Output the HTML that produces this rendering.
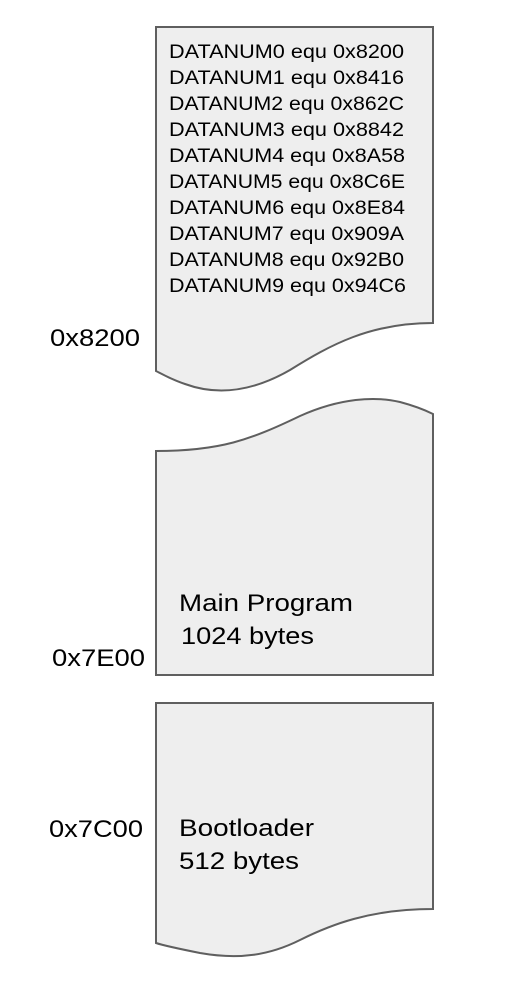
<!DOCTYPE html>
<html><head><style>html,body{margin:0;padding:0;background:#fff}svg{display:block}</style></head>
<body>
<svg width="516" height="996" viewBox="0 0 516 996" xmlns="http://www.w3.org/2000/svg" font-family="Liberation Sans, Arial, sans-serif" fill="#000">
<g fill="#eeeeee" stroke="#5f5f5f" stroke-width="2">
<path d="M156,27 H433 V323 C370,323 330,345 290,370 C250,393 215,395 185,384 C170,379 162,374 156,371 Z"/>
<path d="M156,451 C220,451 250,440 300,416 C340,398 375,396 400,402 C415,406 425,410 433,414 V675 H156 Z"/>
<path d="M156,703 H433 V909 C370,909 330,925 300,940 C270,955 240,960 200,953 C180,949 165,946 156,943 Z"/>
</g>
<g font-size="19">
<text x="169" y="58" textLength="235" lengthAdjust="spacingAndGlyphs">DATANUM0 equ 0x8200</text>
<text x="169" y="84" textLength="235" lengthAdjust="spacingAndGlyphs">DATANUM1 equ 0x8416</text>
<text x="169" y="110" textLength="235" lengthAdjust="spacingAndGlyphs">DATANUM2 equ 0x862C</text>
<text x="169" y="136" textLength="235" lengthAdjust="spacingAndGlyphs">DATANUM3 equ 0x8842</text>
<text x="169" y="162" textLength="236" lengthAdjust="spacingAndGlyphs">DATANUM4 equ 0x8A58</text>
<text x="169" y="188" textLength="236" lengthAdjust="spacingAndGlyphs">DATANUM5 equ 0x8C6E</text>
<text x="169" y="214" textLength="236" lengthAdjust="spacingAndGlyphs">DATANUM6 equ 0x8E84</text>
<text x="169" y="240" textLength="235" lengthAdjust="spacingAndGlyphs">DATANUM7 equ 0x909A</text>
<text x="169" y="266" textLength="235" lengthAdjust="spacingAndGlyphs">DATANUM8 equ 0x92B0</text>
<text x="169" y="292" textLength="237" lengthAdjust="spacingAndGlyphs">DATANUM9 equ 0x94C6</text>
</g>
<g font-size="24">
<text x="50" y="346" textLength="90" lengthAdjust="spacingAndGlyphs">0x8200</text>
<text x="52" y="666" textLength="93" lengthAdjust="spacingAndGlyphs">0x7E00</text>
<text x="49" y="837" textLength="94" lengthAdjust="spacingAndGlyphs">0x7C00</text>
<text x="179" y="611" textLength="174" lengthAdjust="spacingAndGlyphs">Main Program</text>
<text x="181" y="644" textLength="133" lengthAdjust="spacingAndGlyphs">1024 bytes</text>
<text x="179" y="836" textLength="135" lengthAdjust="spacingAndGlyphs">Bootloader</text>
<text x="179" y="869" textLength="120" lengthAdjust="spacingAndGlyphs">512 bytes</text>
</g>
</svg>
</body></html>
